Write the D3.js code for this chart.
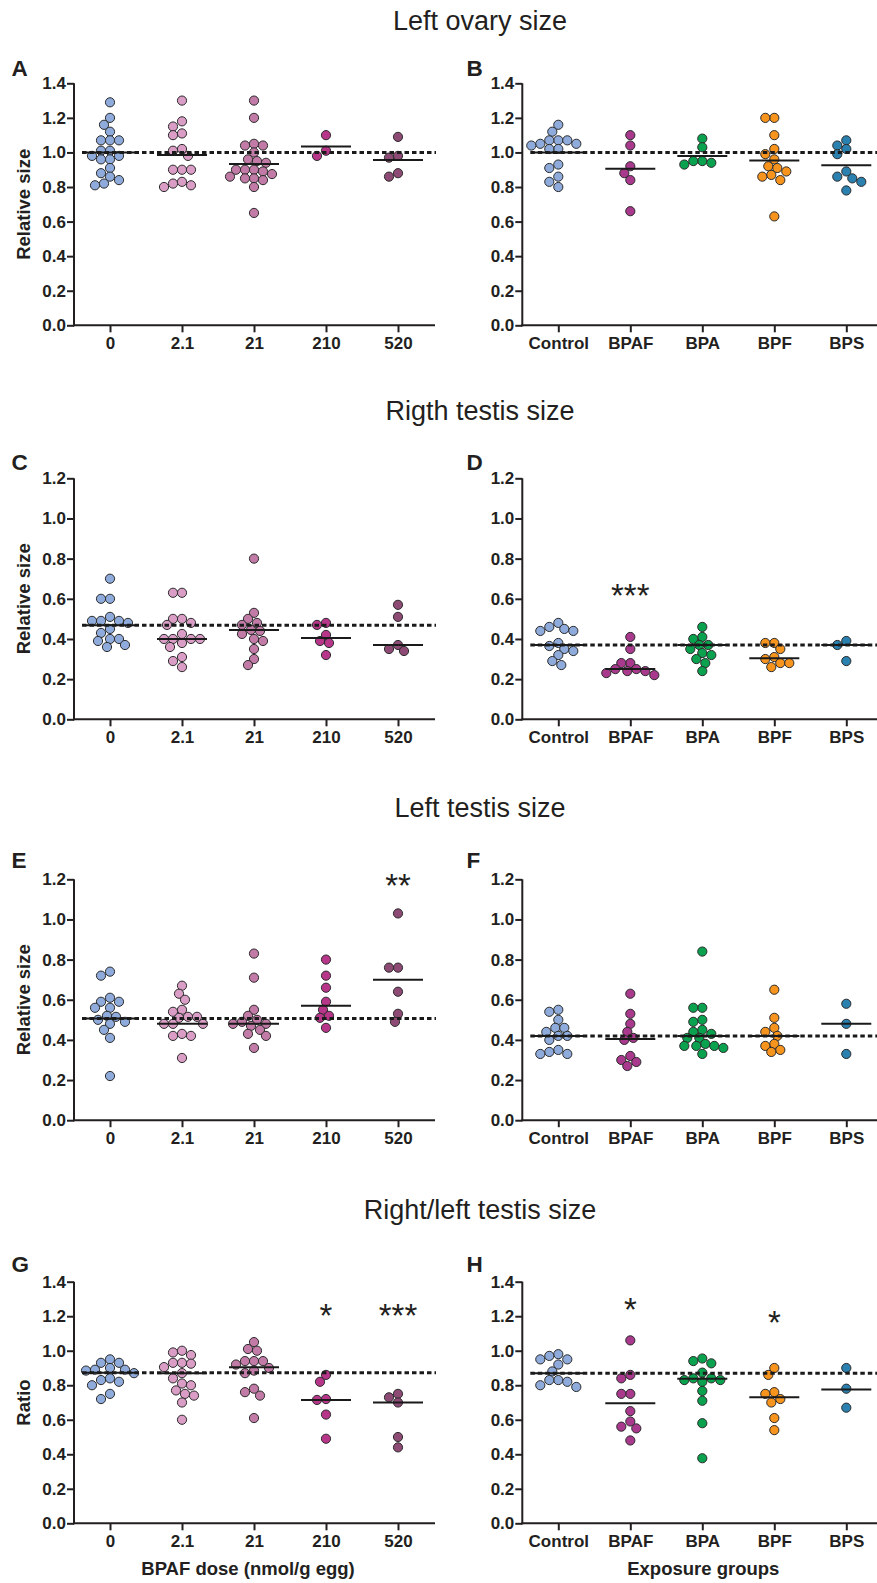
<!DOCTYPE html>
<html>
<head>
<meta charset="utf-8">
<script src="https://cdn.jsdelivr.net/npm/d3@7/dist/d3.min.js"></script>
<style>
  html, body { margin: 0; padding: 0; background: #fff; }
  svg { display: block; }
  text { font-family: "Liberation Sans", Arial, Helvetica, sans-serif; fill: #231f20; }
</style>
</head>
<body>
<svg id="chart" width="877" height="1583"></svg>
<script>
// ---------------- DATA ----------------
const doseGroups = ["0", "2.1", "21", "210", "520"];
const exposureGroups = ["Control", "BPAF", "BPA", "BPF", "BPS"];
const doseColors = ["#8eabdb", "#da9dc6", "#c27ba7", "#b8368a", "#8c4a75"];
const exposureColors = ["#8eabdb", "#a8398d", "#0aa24f", "#f7941e", "#2a80ae"];

const sectionTitles = ["Left ovary size", "Rigth testis size", "Left testis size", "Right/left testis size"];
const panelLetters = ["A", "B", "C", "D", "E", "F", "G", "H"];
const yTitles = ["Relative size", "Relative size", "Relative size", "Ratio"];
const xTitles = ["BPAF dose (nmol/g egg)", "Exposure groups"];
const yMaxima = [1.4, 1.2, 1.2, 1.4];
const yTickValues = [
  [0, 0.2, 0.4, 0.6, 0.8, 1.0, 1.2, 1.4],
  [0, 0.2, 0.4, 0.6, 0.8, 1.0, 1.2],
  [0, 0.2, 0.4, 0.6, 0.8, 1.0, 1.2],
  [0, 0.2, 0.4, 0.6, 0.8, 1.0, 1.2, 1.4]
];

// A: left ovary, BPAF dose
const ovaryDose = [
  [1.29, 1.20, 1.16, 1.12, 1.07, 1.07, 1.07, 1.01, 1.01, 0.98, 0.98, 0.96, 0.96, 0.91, 0.88, 0.86, 0.84, 0.82, 0.81],
  [1.30, 1.18, 1.15, 1.11, 1.10, 1.02, 1.01, 0.98, 0.90, 0.90, 0.90, 0.83, 0.82, 0.81, 0.80],
  [1.30, 1.20, 1.05, 1.04, 1.04, 1.00, 0.96, 0.95, 0.94, 0.90, 0.90, 0.90, 0.89, 0.875, 0.86, 0.85, 0.85, 0.84, 0.80, 0.65],
  [1.10, 1.01, 0.98],
  [1.09, 0.98, 0.97, 0.88, 0.86]
];
const ovaryDoseMeans = [1.00, 0.985, 0.933, 1.034, 0.956];

// B: left ovary, exposure groups
const ovaryExposure = [
  [1.16, 1.12, 1.07, 1.07, 1.07, 1.05, 1.05, 1.04, 1.02, 1.02, 0.93, 0.91, 0.86, 0.83, 0.80],
  [1.10, 1.04, 0.92, 0.88, 0.84, 0.66],
  [1.08, 1.03, 0.95, 0.95, 0.94, 0.93],
  [1.20, 1.20, 1.10, 1.02, 0.99, 0.96, 0.92, 0.91, 0.89, 0.87, 0.86, 0.84, 0.63],
  [1.07, 1.04, 1.02, 0.99, 0.89, 0.86, 0.85, 0.83, 0.78]
];
const ovaryExposureMeans = [1.00, 0.906, 0.98, 0.953, 0.926];

// C: right testis, BPAF dose
const rightTestisDose = [
  [0.70, 0.60, 0.60, 0.51, 0.49, 0.49, 0.49, 0.48, 0.45, 0.43, 0.40, 0.40, 0.39, 0.37, 0.36],
  [0.63, 0.63, 0.50, 0.50, 0.48, 0.47, 0.425, 0.40, 0.40, 0.40, 0.40, 0.38, 0.36, 0.31, 0.29, 0.26],
  [0.80, 0.53, 0.50, 0.48, 0.47, 0.445, 0.44, 0.425, 0.40, 0.39, 0.35, 0.30, 0.27],
  [0.48, 0.47, 0.42, 0.39, 0.38, 0.32],
  [0.57, 0.51, 0.37, 0.35, 0.34]
];
const rightTestisDoseMeans = [0.468, 0.40, 0.445, 0.405, 0.37];

// D: right testis, exposure groups
const rightTestisExposure = [
  [0.48, 0.46, 0.45, 0.44, 0.44, 0.38, 0.365, 0.35, 0.34, 0.32, 0.29, 0.27],
  [0.41, 0.35, 0.28, 0.28, 0.25, 0.25, 0.24, 0.24, 0.23, 0.22],
  [0.46, 0.41, 0.40, 0.37, 0.37, 0.35, 0.33, 0.32, 0.30, 0.28, 0.24],
  [0.38, 0.38, 0.35, 0.31, 0.30, 0.28, 0.28, 0.26],
  [0.39, 0.37, 0.29]
];
const rightTestisExposureMeans = [0.37, 0.25, 0.37, 0.304, 0.37];

// E: left testis, BPAF dose
const leftTestisDose = [
  [0.74, 0.72, 0.61, 0.59, 0.59, 0.56, 0.56, 0.52, 0.515, 0.50, 0.49, 0.48, 0.45, 0.41, 0.22],
  [0.67, 0.63, 0.60, 0.55, 0.54, 0.515, 0.515, 0.51, 0.48, 0.48, 0.48, 0.43, 0.42, 0.42, 0.31],
  [0.83, 0.71, 0.55, 0.52, 0.50, 0.49, 0.48, 0.48, 0.47, 0.45, 0.43, 0.42, 0.36],
  [0.80, 0.72, 0.66, 0.59, 0.55, 0.52, 0.51, 0.46],
  [1.03, 0.76, 0.76, 0.64, 0.53, 0.49]
];
const leftTestisDoseMeans = [0.507, 0.48, 0.48, 0.57, 0.70];

// F: left testis, exposure groups
const leftTestisExposure = [
  [0.55, 0.54, 0.50, 0.46, 0.46, 0.44, 0.42, 0.42, 0.40, 0.35, 0.34, 0.33, 0.33],
  [0.63, 0.53, 0.48, 0.44, 0.41, 0.40, 0.32, 0.30, 0.29, 0.27],
  [0.84, 0.56, 0.56, 0.50, 0.49, 0.45, 0.44, 0.43, 0.41, 0.41, 0.38, 0.37, 0.37, 0.37, 0.36, 0.33],
  [0.65, 0.51, 0.46, 0.44, 0.42, 0.38, 0.37, 0.35, 0.34],
  [0.58, 0.48, 0.33]
];
const leftTestisExposureMeans = [0.42, 0.405, 0.42, 0.42, 0.48];

// G: right/left ratio, BPAF dose
const ratioDose = [
  [0.95, 0.93, 0.93, 0.90, 0.89, 0.89, 0.885, 0.87, 0.84, 0.83, 0.82, 0.80, 0.75, 0.72],
  [1.00, 0.99, 0.975, 0.93, 0.93, 0.925, 0.905, 0.87, 0.84, 0.81, 0.80, 0.77, 0.75, 0.74, 0.70, 0.60],
  [1.05, 1.01, 1.00, 0.94, 0.94, 0.94, 0.92, 0.90, 0.885, 0.87, 0.78, 0.76, 0.74, 0.61],
  [0.86, 0.82, 0.72, 0.715, 0.63, 0.49],
  [0.75, 0.73, 0.70, 0.50, 0.44]
];
const ratioDoseMeans = [0.873, 0.87, 0.904, 0.714, 0.70];

// H: right/left ratio, exposure groups
const ratioExposure = [
  [0.98, 0.97, 0.95, 0.95, 0.92, 0.88, 0.83, 0.83, 0.82, 0.80, 0.79],
  [1.06, 0.86, 0.84, 0.75, 0.75, 0.65, 0.59, 0.56, 0.55, 0.48],
  [0.955, 0.94, 0.927, 0.873, 0.84, 0.84, 0.83, 0.83, 0.82, 0.767, 0.71, 0.58, 0.377],
  [0.90, 0.86, 0.76, 0.75, 0.72, 0.70, 0.61, 0.54],
  [0.90, 0.78, 0.67]
];
const ratioExposureMeans = [0.869, 0.695, 0.838, 0.73, 0.776];

// significance marks: [panel index, group index, y value, label]
const significance = [
  [3, 1, 0.656, "***"],
  [4, 4, 1.205, "**"],
  [6, 3, 1.246, "*"],
  [6, 4, 1.246, "***"],
  [7, 1, 1.284, "*"],
  [7, 3, 1.207, "*"]
];

// ---------------- LAYOUT ----------------
const panelData = [ovaryDose, ovaryExposure, rightTestisDose, rightTestisExposure,
                   leftTestisDose, leftTestisExposure, ratioDose, ratioExposure];
const panelMeans = [ovaryDoseMeans, ovaryExposureMeans, rightTestisDoseMeans, rightTestisExposureMeans,
                    leftTestisDoseMeans, leftTestisExposureMeans, ratioDoseMeans, ratioExposureMeans];

const rowBottoms = [325.3, 719.3, 1120.2, 1523.3];
const rowTops = [83.3, 478.3, 879.3, 1281.7];
const titleBaselines = [30, 420, 817, 1219];
const colLeft = [74, 522.3];
const colWidth = 360;

const svg = d3.select("#chart");
svg.append("rect").attr("width", 877).attr("height", 1583).attr("fill", "#fff");

const FONT = '"Liberation Sans", Arial, Helvetica, sans-serif';

sectionTitles.forEach((t, r) => {
  svg.append("text")
    .attr("x", 480).attr("y", titleBaselines[r])
    .attr("text-anchor", "middle")
    .style("font-size", "27px")
    .style("font-weight", "normal")
    .text(t);
});

// simple deterministic beeswarm layout (horizontal offsets only)
function swarm(values, y) {
  const placed = [];
  const stepX = 3.0, dmin = 8.4;
  values.forEach(v => {
    const py = y(v);
    for (let i = 0; i < 400; i++) {
      const off = i === 0 ? 0 : (i % 2 ? -1 : 1) * Math.ceil(i / 2) * stepX;
      const ok = placed.every(p => (p.dx - off) ** 2 + (p.y - py) ** 2 >= dmin * dmin);
      if (ok) { placed.push({ dx: off, y: py, v }); break; }
    }
  });
  return placed;
}

panelData.forEach((groupsData, p) => {
  const row = Math.floor(p / 2), col = p % 2;
  const cats = col === 0 ? doseGroups : exposureGroups;
  const colors = col === 0 ? doseColors : exposureColors;
  const x0 = colLeft[col];

  const x = d3.scalePoint().domain(cats).range([x0, x0 + colWidth]).padding(0.5);
  const y = d3.scaleLinear().domain([0, yMaxima[row]]).range([rowBottoms[row], rowTops[row]]);

  const g = svg.append("g");

  const yAxis = g.append("g")
    .attr("transform", `translate(${x0},0)`)
    .call(d3.axisLeft(y).tickValues(yTickValues[row]).tickFormat(d3.format(".1f"))
      .tickSize(7).tickSizeOuter(0).tickPadding(1));
  const xAxis = g.append("g")
    .attr("transform", `translate(0,${rowBottoms[row]})`)
    .call(d3.axisBottom(x).tickSize(7).tickSizeOuter(0).tickPadding(5));

  [yAxis, xAxis].forEach(a => {
    a.select(".domain").attr("stroke", "#231f20").attr("stroke-width", 2);
    a.selectAll(".tick line").attr("stroke", "#231f20").attr("stroke-width", 2);
    a.selectAll(".tick text").attr("fill", "#231f20")
      .style("font-family", FONT).style("font-weight", "bold").style("font-size", "17px");
  });
  xAxis.select(".domain").attr("d", `M${x0 - 1},0H${x0 + colWidth + 1}`);
  yAxis.select(".domain").attr("d", `M0,${rowTops[row]}V${rowBottoms[row] + 1}`);

  groupsData.forEach((vals, gi) => {
    const cx = x(cats[gi]);
    const pts = swarm(vals, y);
    g.append("g").selectAll("circle").data(pts).join("circle")
      .attr("cx", d => cx + d.dx)
      .attr("cy", d => d.y)
      .attr("r", 4.6)
      .attr("fill", colors[gi])
      .attr("stroke", "#2b2b2b")
      .attr("stroke-width", 1);
  });

  g.append("g").selectAll("line").data(panelMeans[p]).join("line")
    .attr("x1", (d, i) => x(cats[i]) - 25)
    .attr("x2", (d, i) => x(cats[i]) + 25)
    .attr("y1", d => y(d)).attr("y2", d => y(d))
    .attr("stroke", "#1a1a1a").attr("stroke-width", 2);

  const ref = panelMeans[p][0];
  g.append("line")
    .attr("x1", x0 + 8).attr("x2", x0 + colWidth + 2)
    .attr("y1", y(ref)).attr("y2", y(ref))
    .attr("stroke", "#1a1a1a").attr("stroke-width", 3)
    .attr("stroke-dasharray", "4.5,3");

  g.append("text")
    .attr("x", col === 0 ? 11.5 : 466.5)
    .attr("y", rowTops[row] - [7.3, 8.8, 11.6, 9.8][row])
    .style("font-size", "22.5px").style("font-weight", "bold")
    .text(panelLetters[p]);

  if (col === 0) {
    const cy = (rowTops[row] + rowBottoms[row]) / 2;
    g.append("text")
      .attr("transform", `translate(30,${cy}) rotate(-90)`)
      .attr("text-anchor", "middle")
      .style("font-size", "18.5px").style("font-weight", "bold")
      .text(yTitles[row]);
  }

  if (row === 3) {
    g.append("text")
      .attr("x", x0 + colWidth / 2 - (col === 0 ? 6 : -1))
      .attr("y", 1575)
      .attr("text-anchor", "middle")
      .style("font-size", "18.5px").style("font-weight", "bold")
      .text(xTitles[col]);
  }

  significance.filter(s => s[0] === p).forEach(s => {
    g.append("text")
      .attr("x", x(cats[s[1]]))
      .attr("y", y(s[2]) + 19)
      .attr("text-anchor", "middle")
      .style("font-size", "33px")
      .text(s[3]);
  });
});
</script>
</body>
</html>
